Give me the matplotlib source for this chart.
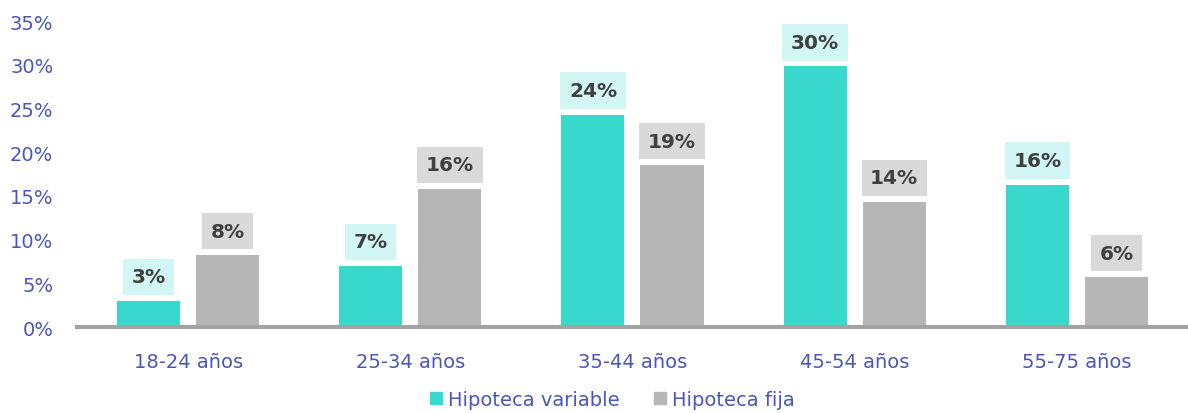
import matplotlib
matplotlib.use('Agg')
import matplotlib.pyplot as plt
import numpy as np
from matplotlib.lines import Line2D

categories = ['18-24 años', '25-34 años', '35-44 años', '45-54 años', '55-75 años']
variable = [3.0, 7.0, 24.3, 29.8, 16.3]
fija = [8.2, 15.8, 18.5, 14.3, 5.7]
variable_labels = ['3%', '7%', '24%', '30%', '16%']
fija_labels = ['8%', '16%', '19%', '14%', '6%']

TEAL = '#38d9cc'
TEAL_LIGHT = '#d2f6f3'
GRAY = '#b6b6b6'
GRAY_LIGHT = '#d9d9d9'
BLUE = '#4a56b8'
TEXT = '#404040'

plt.rcParams['font.family'] = ['DejaVu Sans']

fig = plt.figure(figsize=(11.88, 4.14), dpi=100)
ax = fig.add_axes([0.0648, 0.2077, 0.9352, 0.7391])

x = np.arange(len(categories))
w = 0.284
off = 0.178
b1 = ax.bar(x - off, variable, w, color=TEAL, zorder=2)
b2 = ax.bar(x + off, fija, w, color=GRAY, zorder=2)

def label_bars(bars, labels, boxcolor):
    for rect, lab in zip(bars, labels):
        ax.annotate(lab, (rect.get_x() + rect.get_width() / 2, rect.get_height()),
                    xytext=(0, 10.5), textcoords='offset points',
                    ha='center', va='bottom', fontsize=14.5, fontweight='bold',
                    color=TEXT,
                    bbox=dict(boxstyle='square,pad=0.43', fc=boxcolor, ec='none'))

label_bars(b1, variable_labels, TEAL_LIGHT)
label_bars(b2, fija_labels, GRAY_LIGHT)

ax.set_xlim(-0.5, len(categories) - 0.5)
ax.set_ylim(0, 35)
ax.set_yticks(np.arange(0, 36, 5))
ax.set_yticklabels([f'{v}%' for v in range(0, 36, 5)])
ax.set_xticks(x)
ax.set_xticklabels(categories)
ax.tick_params(axis='both', length=0, labelsize=14, labelcolor=BLUE)
ax.tick_params(axis='y', pad=17)
ax.tick_params(axis='x', pad=18)

for s in ['top', 'right', 'left']:
    ax.spines[s].set_visible(False)
ax.spines['bottom'].set_color('#a3a3a3')
ax.spines['bottom'].set_linewidth(3)
ax.spines['bottom'].set_zorder(3)

handles = [Line2D([], [], marker='s', linestyle='none', markersize=9, color=TEAL),
           Line2D([], [], marker='s', linestyle='none', markersize=9, color=GRAY)]
fig.legend(handles, ['Hipoteca variable', 'Hipoteca fija'], loc='center',
           bbox_to_anchor=(0.514, 0.032), ncol=2, frameon=False, fontsize=14,
           labelcolor=BLUE, handletextpad=0.1, columnspacing=1.6, handlelength=1)

fig.savefig('out.png', dpi=100)
